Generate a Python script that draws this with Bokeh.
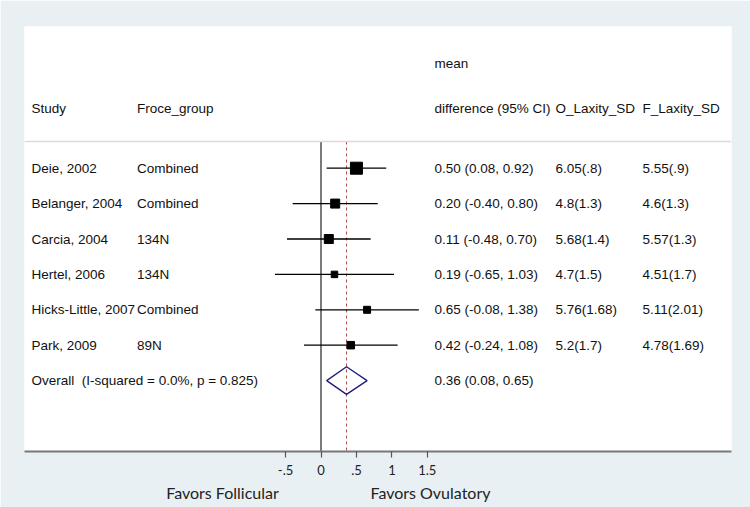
from bokeh.plotting import figure
from bokeh.models import Range1d, FixedTicker, LinearAxis, Span
from bokeh.core.properties import value
from bokeh.embed import file_html
from bokeh.resources import INLINE

# ---------------- data ----------------
studies = ["Deie, 2002", "Belanger, 2004", "Carcia, 2004", "Hertel, 2006",
           "Hicks-Little, 2007", "Park, 2009"]
groups = ["Combined", "Combined", "134N", "134N", "Combined", "89N"]
md = [0.50, 0.20, 0.11, 0.19, 0.65, 0.42]
ci_lo = [0.08, -0.40, -0.48, -0.65, -0.08, -0.24]
ci_hi = [0.92, 0.80, 0.70, 1.03, 1.38, 1.08]
o_laxity_sd = ["6.05(.8)", "4.8(1.3)", "5.68(1.4)", "4.7(1.5)", "5.76(1.68)", "5.2(1.7)"]
f_laxity_sd = ["5.55(.9)", "4.6(1.3)", "5.57(1.3)", "4.51(1.7)", "5.11(2.01)", "4.78(1.69)"]
box_size = [12, 9, 9, 6.5, 7, 7.5]   # study weight boxes (px)

overall_md = 0.36
overall_lo = 0.08
overall_hi = 0.65
overall_label = "Overall \u00a0(I-squared = 0.0%, p = 0.825)"

tick_values = [-0.5, 0, 0.5, 1, 1.5]
tick_labels = ["-.5", "0", ".5", "1", "1.5"]
headers = ["Study", "Froce_group", "difference (95% CI)", "O_Laxity_SD", "F_Laxity_SD"]
favors_labels = ["Favors Follicular", "Favors Ovulatory"]

# ---------------- layout helpers ----------------
ZERO_PX = 320.5
PX_PER_UNIT = 70.9
def px2x(px):
    return (px - ZERO_PX) / PX_PER_UNIT

ROW1_PX = 167.7
ROW_STEP = 35.4
def py2y(py):
    return 1 + (py - ROW1_PX) / ROW_STEP

col_x = [px2x(31), px2x(136.5), px2x(434), px2x(555), px2x(642)]
favors_x = [px2x(222), px2x(430)]
y_header = py2y(108)
y_mean = py2y(63)
y_sep = py2y(141)
y_bottom = py2y(451)

rows = list(range(1, len(studies) + 1))
overall_row = len(studies) + 1

BG = "#e9f0f3"
FONT = value("Liberation Sans")
FS = "13.5px"

p = figure(width=750, height=507, output_backend="svg", toolbar_location=None,
           x_range=Range1d(px2x(24), px2x(731)),
           y_range=Range1d(py2y(451), py2y(26)),
           min_border_left=24, min_border_right=19, min_border_top=26, min_border_bottom=56)
p.border_fill_color = BG
p.background_fill_color = "white"
p.outline_line_color = None
p.grid.visible = False
p.yaxis.visible = False

# main x axis
xa = p.xaxis[0]
xa.ticker = FixedTicker(ticks=tick_values)
xa.major_label_overrides = {float(t): l for t, l in zip(tick_values, tick_labels)}
xa.axis_line_color = "#777777"
xa.axis_line_width = 2
xa.major_tick_line_color = "#555555"
xa.major_tick_line_width = 1.2
xa.major_tick_out = 6
xa.major_tick_in = 0
xa.minor_tick_line_color = None
xa.major_label_text_font = "Lato"
xa.major_label_text_font_size = "13px"
xa.major_label_text_color = "#222222"
xa.major_label_standoff = 7

# second axis with "Favors" labels
fa = LinearAxis(ticker=FixedTicker(ticks=favors_x),
                major_label_overrides={float(x): l for x, l in zip(favors_x, favors_labels)})
fa.axis_line_color = None
fa.major_tick_line_color = None
fa.minor_tick_line_color = None
fa.major_tick_out = 0
fa.major_tick_in = 0
fa.major_label_standoff = 5
fa.major_label_text_font = "Lato"
fa.major_label_text_font_size = "16px"
fa.major_label_text_color = "#222222"
p.add_layout(fa, "below")

# header separator
p.add_layout(Span(location=y_sep, dimension="width", line_color="#dcdcdc", line_width=1.5))

# zero line and overall dashed line
p.segment(x0=[0], y0=[y_sep], x1=[0], y1=[y_bottom], line_color="#5a5a5a", line_width=1.6)
p.segment(x0=[overall_md], y0=[y_sep], x1=[overall_md], y1=[y_bottom],
          line_color="#b04848", line_width=1, line_dash="3 3")

# CIs and boxes
p.segment(x0=ci_lo, y0=rows, x1=ci_hi, y1=rows, line_color="black", line_width=1.3)
p.scatter(x=md, y=rows, marker="square", size=box_size, color="black")

# overall diamond
half_h = 0.39
p.patch(x=[overall_lo, overall_md, overall_hi, overall_md],
        y=[overall_row, overall_row - half_h, overall_row, overall_row + half_h],
        fill_color=None, line_color="#1d1d78", line_width=1.3)

# table texts
def txt(xs, ys, texts):
    p.text(x=xs, y=ys, text=texts, text_font=FONT, text_font_size=FS,
           text_baseline="middle", text_align="left", text_color="#111111")

ci_text = [f"{m:.2f} ({l:.2f}, {h:.2f})" for m, l, h in zip(md, ci_lo, ci_hi)]
txt([col_x[0]] * len(rows), rows, studies)
txt([col_x[1]] * len(rows), rows, groups)
txt([col_x[2]] * len(rows), rows, ci_text)
txt([col_x[3]] * len(rows), rows, o_laxity_sd)
txt([col_x[4]] * len(rows), rows, f_laxity_sd)
txt([col_x[0]], [overall_row], [overall_label])
txt([col_x[2]], [overall_row], [f"{overall_md:.2f} ({overall_lo:.2f}, {overall_hi:.2f})"])
txt(col_x, [y_header] * len(headers), headers)
txt([col_x[2]], [y_mean], ["mean"])

open("out.html", "w").write(file_html(p, INLINE))
